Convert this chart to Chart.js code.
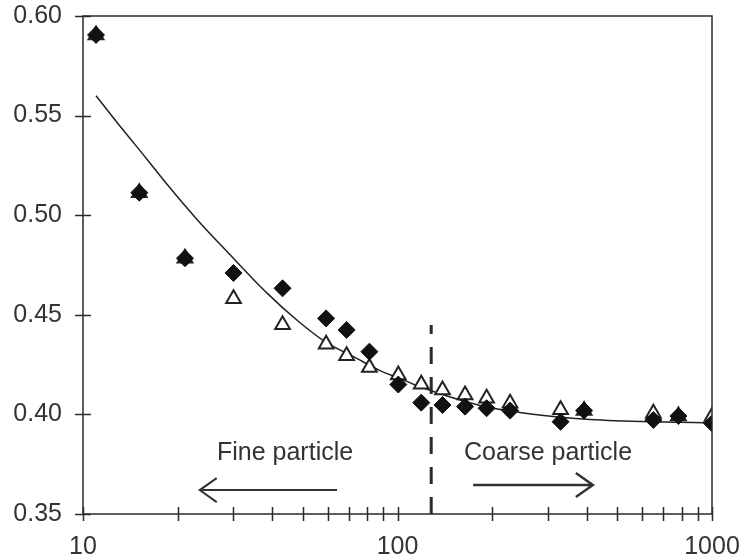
<!DOCTYPE html>
<html>
<head>
<meta charset="utf-8">
<script src="https://cdn.jsdelivr.net/npm/chart.js@4"></script>
<style>
  html, body { margin: 0; padding: 0; background: #fff; }
  #wrap { width: 742px; height: 559px; }
</style>
</head>
<body>
<div id="wrap"><canvas id="chart"></canvas></div>
<script>
// particle size (x) for both measurement sets
const sizes = [11, 15.1, 21.1, 30.1, 43.1, 59.3, 68.9, 81.4, 100.6, 119, 139, 164, 192, 228, 330, 392, 651, 782, 1000];
// filled diamonds
const diamondValues = [0.5905, 0.5113, 0.4784, 0.4710, 0.4633, 0.4482, 0.4424, 0.4315, 0.4150, 0.4059, 0.4047, 0.4039, 0.4031, 0.4019, 0.3963, 0.4019, 0.3972, 0.3992, 0.3955];
// open triangles
const triangleValues = [0.5905, 0.5113, 0.4784, 0.4580, 0.4450, 0.4352, 0.4295, 0.4235, 0.4198, 0.4151, 0.4123, 0.4098, 0.4081, 0.4056, 0.4023, 0.4019, 0.4006, 0.3992, 0.3989];
// fitted curve
const curveX = [11, 13.3, 15.9, 18.5, 23, 28.6, 38.4, 49, 59.5, 72.4, 88, 102, 115, 183, 245, 313, 409, 651, 1000];
const curveY = [0.560, 0.5435, 0.5285, 0.5155, 0.498, 0.482, 0.461, 0.446, 0.436, 0.429, 0.422, 0.418, 0.4145, 0.4045, 0.401, 0.399, 0.3975, 0.3963, 0.3958];
// axis ticks
const xTickLabels = [10, 100, 1000];
const xTickMarks = [10, 20, 30, 40, 50, 60, 70, 80, 90, 100, 200, 300, 400, 500, 600, 700, 800, 900, 1000];
const yTickLabels = [0.35, 0.40, 0.45, 0.50, 0.55, 0.60];

const ink = '#2b2b2b';
const FONT = "'Liberation Sans', Arial, sans-serif";

const toPoints = (xs, ys) => xs.map((x, i) => ({ x: x, y: ys[i] }));

// frame, crossing tick marks, divider and arrows
const decorPlugin = {
    id: 'decor',
    afterDatasetsDraw(chart) {
        const { ctx, chartArea: a, scales: { x, y } } = chart;
        ctx.save();
        ctx.strokeStyle = ink;
        ctx.lineWidth = 1.5;
        ctx.strokeRect(a.left, a.top, a.right - a.left, a.bottom - a.top);

        ctx.beginPath();
        xTickMarks.forEach(v => {
            const px = Math.round(x.getPixelForValue(v)) + 0.5;
            ctx.moveTo(px, a.bottom - 7);
            ctx.lineTo(px, a.bottom + 7);
        });
        yTickLabels.forEach(v => {
            const py = Math.round(y.getPixelForValue(v)) + 0.5;
            ctx.moveTo(a.left - 8, py);
            ctx.lineTo(a.left + 8, py);
        });
        ctx.stroke();

        // dashed divider between fine and coarse
        const dx = x.getPixelForValue(128);
        ctx.beginPath();
        ctx.lineWidth = 3;
        ctx.setLineDash([17, 13]);
        ctx.moveTo(dx, a.bottom);
        ctx.lineTo(dx, y.getPixelForValue(0.4449));
        ctx.stroke();
        ctx.setLineDash([]);

        // labels
        ctx.fillStyle = '#333';
        ctx.font = '25px ' + FONT;
        ctx.textAlign = 'center';
        ctx.textBaseline = 'middle';
        ctx.fillText('Fine particle', x.getPixelForValue(43.9), y.getPixelForValue(0.3806));
        ctx.fillText('Coarse particle', x.getPixelForValue(301), y.getPixelForValue(0.3806));

        const arrow = (from, to, yv, w) => {
            const x0 = x.getPixelForValue(from), x1 = x.getPixelForValue(to), py = y.getPixelForValue(yv);
            const dir = x1 > x0 ? -1 : 1;
            ctx.lineWidth = w;
            ctx.strokeStyle = '#333';
            ctx.beginPath();
            ctx.moveTo(x0, py);
            ctx.lineTo(x1, py);
            ctx.moveTo(x1 + dir * 17, py - 12);
            ctx.lineTo(x1, py);
            ctx.lineTo(x1 + dir * 17, py + 12);
            ctx.stroke();
        };
        arrow(64.2, 23.5, 0.3620, 2);
        arrow(174, 418, 0.3646, 2.5);
        ctx.restore();
    }
};

new Chart(document.getElementById('chart'), {
    type: 'scatter',
    data: {
        datasets: [
            {
                label: 'diamond',
                data: toPoints(sizes, diamondValues),
                pointStyle: 'rectRot',
                pointRadius: 8.5,
                backgroundColor: '#111',
                borderColor: '#111',
                borderWidth: 1,
                order: 0
            },
            {
                label: 'triangle',
                data: toPoints(sizes, triangleValues),
                pointStyle: 'triangle',
                pointRadius: 8.5,
                backgroundColor: '#fff',
                borderColor: '#222',
                borderWidth: 2,
                order: 1
            },
            {
                label: 'fit',
                data: toPoints(curveX, curveY),
                showLine: true,
                pointRadius: 0,
                borderColor: '#222',
                borderWidth: 1.5,
                cubicInterpolationMode: 'monotone',
                order: 2
            }
        ]
    },
    options: {
        responsive: true,
        maintainAspectRatio: false,
        animation: false,
        layout: { padding: { left: 12, top: 16, right: 30, bottom: 0 } },
        plugins: {
            legend: { display: false },
            tooltip: { enabled: false }
        },
        scales: {
            x: {
                type: 'logarithmic',
                min: 10,
                max: 1000,
                grid: { display: false, drawTicks: false },
                border: { display: false },
                afterBuildTicks: scale => {
                    scale.ticks = xTickLabels.map(v => ({ value: v }));
                },
                afterFit: scale => {
                    scale.height = 45;
                    scale.paddingLeft = 0;
                    scale.paddingRight = 0;
                },
                ticks: {
                    color: '#333',
                    font: { family: FONT, size: 25 },
                    padding: 18,
                    maxRotation: 0,
                    autoSkip: false,
                    callback: value => String(value)
                }
            },
            y: {
                min: 0.35,
                max: 0.60,
                grid: { display: false, drawTicks: false },
                border: { display: false },
                afterBuildTicks: scale => {
                    scale.ticks = yTickLabels.map(v => ({ value: v }));
                },
                afterFit: scale => {
                    scale.width = 71;
                    scale.paddingTop = 0;
                    scale.paddingBottom = 0;
                },
                ticks: {
                    color: '#333',
                    font: { family: FONT, size: 25 },
                    padding: 21,
                    callback: value => value.toFixed(2)
                }
            }
        }
    },
    plugins: [decorPlugin]
});
</script>
</body>
</html>
